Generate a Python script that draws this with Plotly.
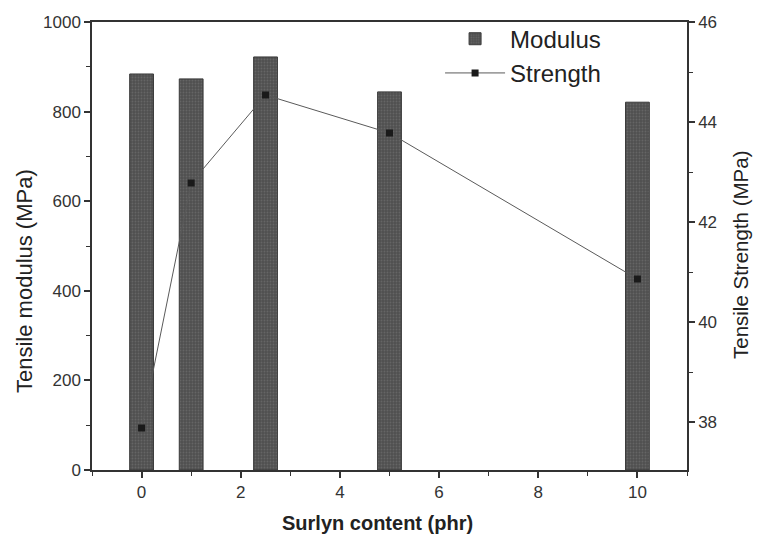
import plotly.graph_objects as go

surlyn = [0, 1, 2.5, 5, 10]
modulus = [884, 873, 922, 844, 821]
strength = [37.88, 42.78, 44.54, 43.78, 40.86]

font_family = "Liberation Sans, Arial, sans-serif"

fig = go.Figure()
fig.add_trace(go.Bar(
    x=surlyn, y=modulus, name="Modulus", width=0.48,
    marker=dict(color="#5c5c5c", line=dict(color="#3a3a3a", width=1),
                pattern=dict(shape=".", size=3, solidity=0.3, fgcolor="#7a7a7a", bgcolor="#505050")),
    yaxis="y",
))
fig.add_trace(go.Scatter(
    x=surlyn, y=strength, name="Strength", mode="lines+markers",
    line=dict(color="#5a5a5a", width=1),
    marker=dict(symbol="square", size=7, color="#1a1a1a"),
    yaxis="y2",
))

axis_common = dict(
    ticks="outside", ticklen=6, tickwidth=1.5, tickcolor="#333",
    showline=True, linecolor="#333", linewidth=1.5,
    showgrid=False, zeroline=False, automargin=False,
    tickfont=dict(size=17, color="#333"),
)

fig.update_layout(
    width=759, height=543,
    margin=dict(l=92, r=72, t=22, b=73),
    paper_bgcolor="white", plot_bgcolor="white",
    font=dict(family=font_family, color="#333333", size=17),
    showlegend=True,
    legend=dict(x=0.585, y=1.012, xanchor="left", yanchor="top",
                bgcolor="rgba(0,0,0,0)", font=dict(size=24, color="#222222"),
                itemwidth=60, tracegroupgap=0),
    xaxis=dict(
        range=[-1, 11], tickvals=[0, 2, 4, 6, 8, 10], mirror=True,
        minor=dict(ticks="outside", ticklen=4, tickwidth=1.2, tickcolor="#333", dtick=1, tick0=0),
        **axis_common,
    ),
    yaxis=dict(
        range=[0, 1000], tickvals=[0, 200, 400, 600, 800, 1000],
        minor=dict(ticks="outside", ticklen=4, tickwidth=1.2, tickcolor="#333", dtick=100, tick0=0),
        **axis_common,
    ),
    yaxis2=dict(
        range=[37.04, 46], overlaying="y", side="right",
        tickvals=[38, 40, 42, 44, 46],
        minor=dict(ticks="outside", ticklen=4, tickwidth=1.2, tickcolor="#333", dtick=1, tick0=37),
        **axis_common,
    ),
    annotations=[
        dict(text="Tensile modulus (MPa)", xref="paper", yref="paper", x=-0.1126, y=0.4219,
             xanchor="center", yanchor="middle", textangle=-90, showarrow=False,
             font=dict(size=22, color="#222")),
        dict(text="Tensile Strength (MPa)", xref="paper", yref="paper", x=1.089, y=0.482,
             xanchor="center", yanchor="middle", textangle=-90, showarrow=False,
             font=dict(size=20.5, color="#222")),
        dict(text="<b>Surlyn content (phr)</b>", xref="paper", yref="paper", x=0.479, y=-0.118,
             xanchor="center", yanchor="middle", showarrow=False,
             font=dict(size=20, color="#222")),
    ],
)

fig.write_html("out.html")
